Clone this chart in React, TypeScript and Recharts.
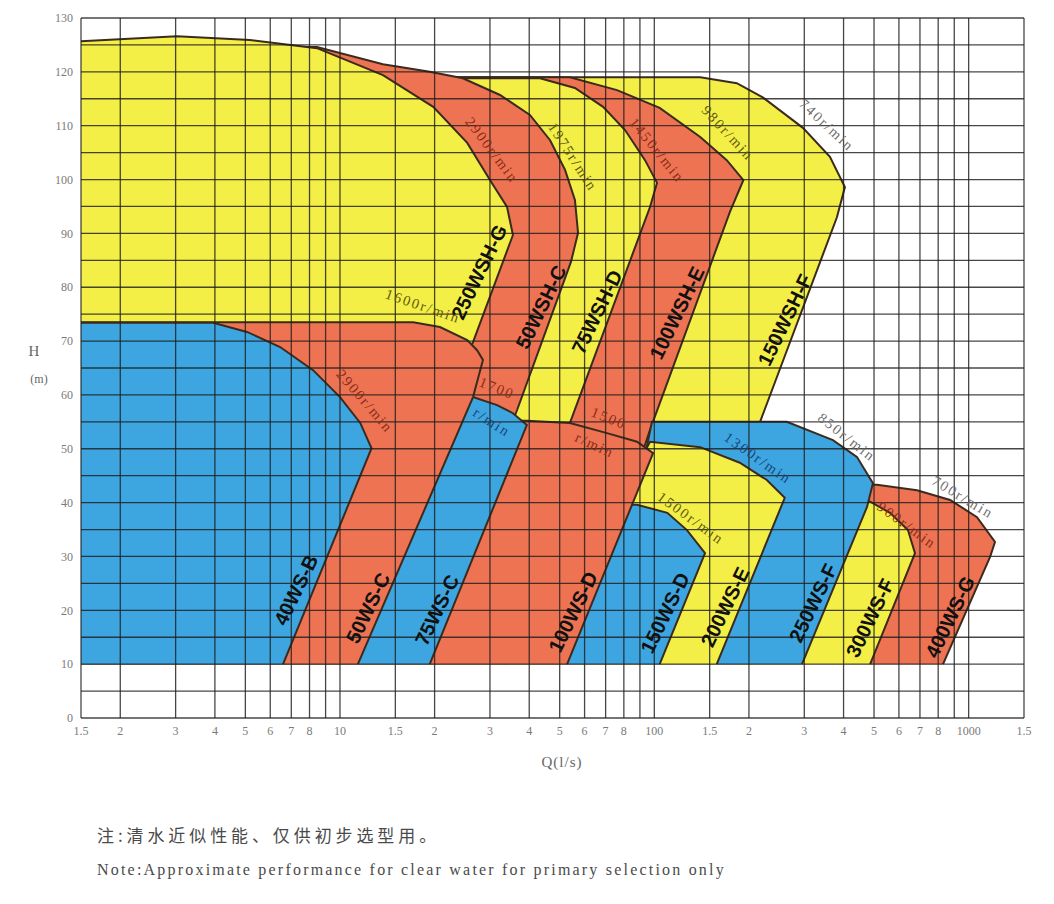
import { ComposedChart, Area, XAxis, YAxis, CartesianGrid } from "recharts"

const SERIF = '"Liberation Serif", "DejaVu Serif", serif'
const SANS = '"Liberation Sans", Arial, sans-serif'

const YELLOW = "#F4EF46"
const RED = "#EE7353"
const BLUE = "#3DA6E1"
const EDGE = "#3b2b1e"

type Pt = [number, number] // [Q l/s, H m]

// outlines, back to front
const wsh150F: Pt[] = [[1.5, 119.0], [140, 119.0], [183, 117.9], [222, 115.2], [297, 109.6], [362, 104.2], [404, 98.6], [381, 93.0], [217, 55.0], [202, 49.8], [202, 10]]
const wsh100E: Pt[] = [[1.5, 119.0], [53.9, 119.0], [76.1, 116.6], [104, 113.3], [140, 107.9], [170, 103.6], [192, 99.9], [174, 94.0], [96.9, 53.5], [90, 47.9], [90, 10]]
const wsh75D: Pt[] = [[1.5, 118.8], [43.3, 118.8], [55.9, 117.0], [68.7, 113.5], [80.7, 109.2], [93.4, 103.6], [102, 99.4], [96.9, 94.9], [53.9, 54.8], [50.1, 49.8], [50.1, 10]]
const wsh50C: Pt[] = [[1.5, 124.4], [8.45, 124.6], [13.7, 121.4], [19.3, 120.0], [24.6, 118.8], [32.3, 115.7], [40.2, 112.0], [46.6, 107.3], [52.0, 101.8], [55.9, 96.2], [57.2, 90.1], [54.3, 84.7], [36.6, 57.2], [33.5, 51.6], [33.5, 10]]
const wsh250G: Pt[] = [[1.5, 125.7], [3.03, 126.6], [5.17, 125.9], [8.45, 124.4], [13.7, 119.4], [19.8, 113.5], [25.4, 106.8], [30.0, 99.9], [34.0, 94.9], [35.5, 89.7], [26.5, 69.8], [23.2, 62.8], [23.2, 10]]

const ws400G: Pt[] = [[1.5, 43.3], [511, 43.3], [685, 42.3], [873, 40.5], [1063, 37.3], [1213, 32.7], [1170, 29.9], [829, 10]]
const ws300F: Pt[] = [[1.5, 40.5], [475, 40.5], [562, 38.1], [641, 34.9], [675, 30.6], [486, 10]]
const ws250F: Pt[] = [[93.4, 48.8], [98.3, 55.0], [264, 55.0], [370, 51.6], [441, 48.5], [496, 43.6], [475, 39.2], [295, 10]]
const ws200E: Pt[] = [[83.7, 44.2], [96.9, 51.3], [140, 50.3], [187, 47.4], [228, 44.2], [260, 40.9], [158, 10]]
const ws150D: Pt[] = [[1.5, 39.6], [88.1, 39.6], [110, 38.1], [127, 34.9], [145, 30.6], [104, 10]]
const ws100D: Pt[] = [[1.5, 55.2], [39.3, 55.2], [53.9, 54.8], [70.7, 52.9], [88.1, 51.3], [99.1, 49.2], [52.8, 10]]
const ws75C: Pt[] = [[1.5, 59.6], [26.5, 59.6], [31.6, 58.1], [35.5, 56.6], [39.3, 54.4], [19.3, 10]]
const ws50C: Pt[] = [[1.5, 73.5], [17.1, 73.5], [20.8, 72.6], [25.4, 70.2], [27.3, 68.3], [28.5, 66.5], [26.5, 59.6], [11.4, 10]]
const ws40B: Pt[] = [[1.5, 73.4], [3.95, 73.4], [5.06, 71.7], [6.45, 68.9], [8.21, 64.6], [10.0, 59.6], [11.6, 54.8], [12.6, 50.1], [6.59, 10]]

const qTicks = [1.5, 2, 3, 4, 5, 6, 7, 8, 9, 10, 15, 20, 30, 40, 50, 60, 70, 80, 90, 100, 150, 200, 300, 400, 500, 600, 700, 800, 900, 1000, 1500]
const qTickLabels = ["1.5", "2", "3", "4", "5", "6", "7", "8", "", "10", "1.5", "2", "3", "4", "5", "6", "7", "8", "", "100", "1.5", "2", "3", "4", "5", "6", "7", "8", "", "1000", "1.5"]
const hTicks = [0, 5, 10, 15, 20, 25, 30, 35, 40, 45, 50, 55, 60, 65, 70, 75, 80, 85, 90, 95, 100, 105, 110, 115, 120, 125, 130]

const shapes = [
  { name: "150WSH-F", fill: YELLOW, pts: wsh150F },
  { name: "100WSH-E", fill: RED, pts: wsh100E },
  { name: "75WSH-D", fill: YELLOW, pts: wsh75D },
  { name: "50WSH-C", fill: RED, pts: wsh50C },
  { name: "250WSH-G", fill: YELLOW, pts: wsh250G },
  { name: "400WS-G", fill: RED, pts: ws400G },
  { name: "300WS-F", fill: YELLOW, pts: ws300F },
  { name: "250WS-F", fill: BLUE, pts: ws250F },
  { name: "200WS-E", fill: YELLOW, pts: ws200E },
  { name: "150WS-D", fill: BLUE, pts: ws150D },
  { name: "100WS-D", fill: RED, pts: ws100D },
  { name: "75WS-C", fill: BLUE, pts: ws75C },
  { name: "50WS-C", fill: RED, pts: ws50C },
  { name: "40WS-B", fill: BLUE, pts: ws40B },
]

// annotation placement (page px)
const modelLabels = [
  { t: "250WSH-G", x: 479, y: 272 }, { t: "50WSH-C", x: 541, y: 307 }, { t: "75WSH-D", x: 597, y: 312 },
  { t: "100WSH-E", x: 677, y: 313 }, { t: "150WSH-F", x: 785, y: 320 },
  { t: "40WS-B", x: 296, y: 590 }, { t: "50WS-C", x: 368, y: 608 }, { t: "75WS-C", x: 437, y: 610 },
  { t: "100WS-D", x: 573, y: 612 }, { t: "150WS-D", x: 665, y: 613 }, { t: "200WS-E", x: 725, y: 607 },
  { t: "250WS-F", x: 813, y: 603 }, { t: "300WS-F", x: 870, y: 618 }, { t: "400WS-G", x: 950, y: 617 },
]

const OLIVE = "#5f5a14", DRED = "#8a2c17", GREY = "#6f6f6f", DBLUE = "#1b4478"
const speedLabels = [
  { t: "1600r/min", x: 423, y: 306, a: 19, c: OLIVE },
  { t: "2900r/min", x: 365, y: 401, a: 49, c: DRED },
  { t: "2900r/min", x: 492, y: 150, a: 53, c: DRED },
  { t: "1975r/min", x: 573, y: 157, a: 57, c: OLIVE },
  { t: "1450r/min", x: 657, y: 150, a: 51, c: DRED },
  { t: "980r/min", x: 728, y: 133, a: 47, c: OLIVE },
  { t: "740r/min", x: 827, y: 125, a: 43, c: GREY },
  { t: "1700", x: 497, y: 388, a: 22, c: DRED },
  { t: "r/min", x: 492, y: 422, a: 33, c: DBLUE },
  { t: "1500", x: 609, y: 418, a: 22, c: DRED },
  { t: "r/min", x: 595, y: 445, a: 25, c: DRED },
  { t: "1300r/min", x: 758, y: 458, a: 35, c: DBLUE },
  { t: "850r/min", x: 847, y: 437, a: 38, c: GREY },
  { t: "1500r/min", x: 691, y: 518, a: 36, c: OLIVE },
  { t: "900r/min", x: 907, y: 525, a: 36, c: DRED },
  { t: "700r/min", x: 963, y: 497, a: 31, c: GREY },
]

const toRows = (pts: Pt[]) => pts.map(([q, h]) => ({ q, h }))

export default function App() {
  return (
    <div style={{ position: "absolute", left: 0, top: 0, width: 1054, height: 904, background: "#fff" }}>
      <ComposedChart width={1054} height={760} margin={{ top: 18, right: 30, bottom: 12, left: 45 }}>
        <XAxis
          dataKey="q" type="number" scale="log" domain={[1.5, 1500]} allowDataOverflow
          ticks={qTicks} interval={0} height={30} axisLine={false} tickLine={false}
          tickFormatter={(v: number) => qTickLabels[qTicks.indexOf(v)] ?? ""}
          tick={{ fill: "#7a7a7a", fontSize: 12, fontFamily: SERIF }}
        />
        <YAxis
          type="number" domain={[0, 130]} ticks={hTicks} interval={0} width={36}
          axisLine={false} tickLine={false}
          tickFormatter={(v: number) => (v % 10 === 0 ? String(v) : "")}
          tick={{ fill: "#7a7a7a", fontSize: 12, fontFamily: SERIF }}
        />
        {shapes.map((s) => (
          <Area
            key={s.name} name={s.name} data={toRows(s.pts)} dataKey="h" type="linear"
            baseValue={10} fill={s.fill} fillOpacity={1} stroke={EDGE} strokeWidth={2}
            dot={false} activeDot={false} isAnimationActive={false}
          />
        ))}
        <CartesianGrid stroke="#1e1e1e" strokeOpacity={0.82} strokeWidth={1.3} zIndex={600} />
      </ComposedChart>

      <svg width={1054} height={800} style={{ position: "absolute", left: 0, top: 0, pointerEvents: "none" }}>
        {modelLabels.map((l) => (
          <text key={l.t} x={l.x} y={l.y} transform={`rotate(-64 ${l.x} ${l.y})`} textAnchor="middle"
            dominantBaseline="central" fontFamily={SANS} fontWeight="bold" fontSize={20} fill="#111">
            {l.t}
          </text>
        ))}
        {speedLabels.map((l, i) => (
          <text key={i} x={l.x} y={l.y} transform={`rotate(${l.a} ${l.x} ${l.y})`} textAnchor="middle"
            dominantBaseline="central" fontFamily={SERIF} fontSize={14.5} letterSpacing={2} fill={l.c}>
            {l.t}
          </text>
        ))}
        <text x={34} y={356} textAnchor="middle" fontFamily={SERIF} fontSize={15} fill="#666">H</text>
        <text x={39} y={383} textAnchor="middle" fontFamily={SERIF} fontSize={12} fill="#666">(m)</text>
        <text x={562} y={767} textAnchor="middle" fontFamily={SERIF} fontSize={15} letterSpacing={1} fill="#666">Q(l/s)</text>
      </svg>

      <div style={{ position: "absolute", left: 97, top: 822, fontFamily: '"Noto Sans CJK SC", sans-serif', fontSize: 17, letterSpacing: 3.9, color: "#4a4a4a", whiteSpace: "nowrap" }}>
        注:清水近似性能、仅供初步选型用。
      </div>
      <div style={{ position: "absolute", left: 97, top: 861, fontFamily: SERIF, fontSize: 16, letterSpacing: 2.2, color: "#4a4a4a", whiteSpace: "nowrap" }}>
        Note:Approximate performance for clear water for primary selection only
      </div>
    </div>
  )
}
